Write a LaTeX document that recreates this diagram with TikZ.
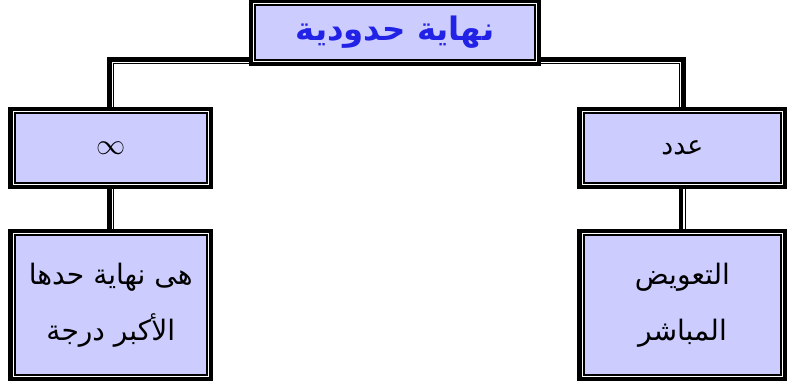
\documentclass[tikz,border=0pt]{standalone}
\usepackage{fontspec}
\usepackage{xcolor}
\usepackage{tikz}
\usetikzlibrary{
  positioning,
  backgrounds
}
\TeXXeTstate=1
\newfontfamily\arabicfont[Script=Arabic]{DejaVu Sans}
\definecolor{lavanda}{RGB}{204,204,255}
\definecolor{azultitulo}{RGB}{34,34,230}
\tikzset{
  block/.style={rectangle,draw=black,line width=1pt,fill=lavanda,align=center,inner sep=2pt,
    preaction={draw=black,line width=9pt},
    preaction={draw=white,line width=2.8pt}},
  titlebox/.style={block,minimum width=7cm,minimum height=1.375cm,
    font=\arabicfont\bfseries\fontsize{23}{26}\selectfont,text=azultitulo},
  smallbox/.style={block,minimum height=1.75cm,font=\arabicfont\fontsize{19}{22}\selectfont},
  bigbox/.style={block,minimum height=3.5cm,font=\arabicfont\fontsize{20}{40}\selectfont},
  link/.style={draw=black,line width=5pt},
  gap/.style={draw=white,line width=0.9pt}
}

\begin{document}
\begin{tikzpicture}
    \useasboundingbox (0,0) rectangle (19.825,-9.625);

    % Titulo
    \node[titlebox] (titulo) at (9.875,-0.8125) {\beginR نهاية حدودية\endR};

    % Casos
    \node[smallbox,minimum width=4.8cm] (infinito) at (2.77,-3.7) {\huge$\infty$};
    \node[smallbox,minimum width=4.93cm] (numero) at (17.06,-3.7) {\beginR عدد\endR};

    % Reglas
    \node[bigbox,minimum width=4.8cm] (grado) at (2.77,-7.625)
      {\beginR هى نهاية حدها\endR\\\beginR الأكبر درجة\endR};
    \node[bigbox,minimum width=4.93cm] (directo) at (17.06,-7.625)
      {\beginR التعويض\endR\\\beginR المباشر\endR};

    % Conectores (linea doble gruesa-fina)
    \begin{scope}[on background layer]
      \foreach \a/\b/\s in {titulo/infinito/1,titulo/numero/-1} {
        \draw[link] (\a.south) -| (\b.north);
        \draw[gap,transform canvas={shift={({\s*1.1pt},-1.1pt)}}] (\a.south) -| (\b.north);
      }
      \foreach \a/\b in {infinito/grado,numero/directo} {
        \draw[link] (\a) -- (\b);
        \draw[gap,transform canvas={xshift=1.1pt}] (\a) -- (\b);
      }
    \end{scope}
\end{tikzpicture}
\end{document}
